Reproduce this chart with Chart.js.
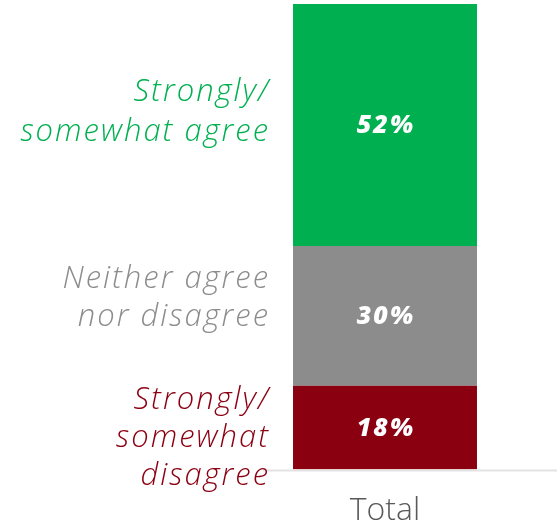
<!DOCTYPE html>
<html>
<head>
<meta charset="utf-8">
<script src="https://cdn.jsdelivr.net/npm/chart.js@4/dist/chart.umd.min.js"></script>
<style>
  html, body { margin: 0; padding: 0; background: #fff; overflow: hidden; }
  #wrap { width: 557px; height: 525px; }
</style>
</head>
<body>
<div id="wrap"><canvas id="chart"></canvas></div>
<script>
// Survey split, stacked bottom to top
const categories = ['Total'];
const seriesNames = ['Strongly/ somewhat disagree', 'Neither agree nor disagree', 'Strongly/ somewhat agree'];
const disagreeValues = [18];
const neutralValues = [30];
const agreeValues = [52];

// side captions, one line per entry
const captionLines = [
  ['Strongly/', 'somewhat', 'disagree'],
  ['Neither agree', 'nor disagree'],
  ['Strongly/', 'somewhat agree']
];
const captionOffsets = [[-19, 19, 57], [-28, 10], [-24, 16]];
const colors = ['#8B0011', '#8C8C8C', '#00B050'];

const lightFont = '"Open Sans", Lato, sans-serif';

// writes the captions left of the bar and the values inside each segment
const segmentText = {
  id: 'segmentText',
  afterDatasetsDraw(chart) {
    const ctx = chart.ctx;
    const area = chart.chartArea;

    // baseline runs on past the bar to the right edge
    ctx.save();
    ctx.strokeStyle = '#e3e3e3';
    ctx.lineWidth = 2;
    ctx.beginPath();
    ctx.moveTo(area.left, area.bottom + 1);
    ctx.lineTo(chart.width, area.bottom + 1);
    ctx.stroke();
    ctx.restore();

    chart.data.datasets.forEach((ds, i) => {
      const bar = chart.getDatasetMeta(i).data[0];
      const mid = (bar.y + bar.base) / 2;

      ctx.save();
      ctx.fillStyle = '#fff';
      ctx.font = 'italic 800 25px ' + lightFont;
      ctx.textAlign = 'center';
      ctx.textBaseline = 'middle';
      ctx.letterSpacing = '2px';
      ctx.fillText(ds.data[0] + '%', bar.x + 1, mid + 1);
      ctx.restore();

      ctx.save();
      ctx.fillStyle = colors[i];
      ctx.font = 'italic 300 31px ' + lightFont;
      ctx.textAlign = 'right';
      ctx.textBaseline = 'alphabetic';
      ctx.letterSpacing = '2px';
      captionLines[i].forEach((line, j) => {
        ctx.fillText(line, 270, mid + captionOffsets[i][j]);
      });
      ctx.restore();
    });
  }
};

new Chart(document.getElementById('chart'), {
  type: 'bar',
  data: {
    labels: categories,
    datasets: [
      { label: seriesNames[0], data: disagreeValues, backgroundColor: colors[0] },
      { label: seriesNames[1], data: neutralValues, backgroundColor: colors[1] },
      { label: seriesNames[2], data: agreeValues, backgroundColor: colors[2] }
    ]
  },
  options: {
    responsive: true,
    maintainAspectRatio: false,
    animation: false,
    layout: { padding: { left: 263, top: 4, right: 50, bottom: -27 } },
    datasets: { bar: { barPercentage: 1, categoryPercentage: 0.754, borderWidth: 0 } },
    plugins: { legend: { display: false }, tooltip: { enabled: false } },
    scales: {
      x: {
        stacked: true,
        grid: { display: false, drawTicks: false },
        border: { display: false },
        ticks: { color: '#595959', padding: 22, font: { family: lightFont, size: 32, weight: 300 } }
      },
      y: { stacked: true, display: false, min: 0, max: 100 }
    }
  },
  plugins: [segmentText]
});
</script>
</body>
</html>
